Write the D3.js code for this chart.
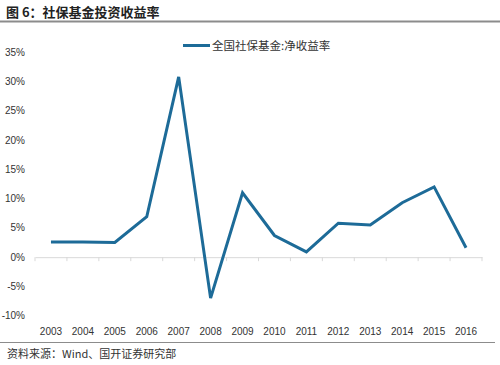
<!DOCTYPE html>
<html><head><meta charset="utf-8">
<script src="https://cdn.jsdelivr.net/npm/d3@7"></script>
<style>body{margin:0;background:#fff;}svg{display:block;}</style>
</head><body>
<script>
const years = ["2003","2004","2005","2006","2007","2008","2009","2010","2011","2012","2013","2014","2015","2016"];
const netReturn = [2.6, 2.6, 2.5, 6.9, 30.8, -7.0, 11.0, 3.7, 0.9, 5.8, 5.5, 9.3, 12.0, 1.6];
const yTicks = [-10, -5, 0, 5, 10, 15, 20, 25, 30, 35];
const seriesName = "全国社保基金:净收益率";
const titleText = "图 6：社保基金投资收益率";
const sourceText = "资料来源：Wind、国开证券研究部";

const W = 500, H = 365;
const svg = d3.select("body").append("svg").attr("width", W).attr("height", H);
const cjk = "'Noto Sans CJK SC', sans-serif";
const lat = "'Liberation Sans', Arial, sans-serif";

// title
svg.append("text").attr("x", 6).attr("y", 17).attr("font-family", cjk).attr("font-weight", "bold")
  .attr("font-size", 13).attr("fill", "#222").text(titleText);
svg.append("line").attr("x1", 0).attr("x2", 500).attr("y1", 21.5).attr("y2", 21.5)
  .attr("stroke", "#8c8c8c").attr("stroke-width", 2);

const x = d3.scaleBand().domain(years).range([35, 482]);
const y = d3.scaleLinear().domain([-10, 35]).range([315.7, 52.3]);

// y labels
svg.append("g").selectAll("text").data(yTicks).join("text")
  .attr("x", 25).attr("y", d => y(d)).attr("dy", "0.35em").attr("text-anchor", "end")
  .attr("font-family", lat).attr("font-size", 10).attr("fill", "#333")
  .text(d => d + "%");

// zero axis
const xAxis = d3.axisBottom(x).tickSize(0).tickFormat("");
const gx = svg.append("g").attr("transform", `translate(0,${y(0)})`).call(xAxis);
gx.select(".domain").attr("stroke", "#d9d9d9");
svg.append("g").selectAll("line").data(d3.range(years.length + 1)).join("line")
  .attr("x1", i => 35 + i * x.step()).attr("x2", i => 35 + i * x.step())
  .attr("y1", y(0)).attr("y2", y(0) + 4).attr("stroke", "#d9d9d9");

// x labels
svg.append("g").selectAll("text").data(years).join("text")
  .attr("x", d => x(d) + x.bandwidth() / 2).attr("y", 335).attr("text-anchor", "middle")
  .attr("font-family", lat).attr("font-size", 10).attr("fill", "#333").text(d => d);

// line
const line = d3.line().x((d, i) => x(years[i]) + x.bandwidth() / 2).y(d => y(d));
svg.append("path").datum(netReturn).attr("d", line).attr("fill", "none")
  .attr("stroke", "#1d6b98").attr("stroke-width", 3).attr("stroke-linejoin", "miter");

// legend
svg.append("line").attr("x1", 183).attr("x2", 210).attr("y1", 45.5).attr("y2", 45.5)
  .attr("stroke", "#1d6b98").attr("stroke-width", 3);
svg.append("text").attr("x", 212).attr("y", 50).attr("font-family", cjk).attr("font-size", 11.5)
  .attr("fill", "#333").text(seriesName);

// source
svg.append("line").attr("x1", 0).attr("x2", 495).attr("y1", 342.5).attr("y2", 342.5)
  .attr("stroke", "#8c8c8c").attr("stroke-width", 1);
svg.append("text").attr("x", 7).attr("y", 358).attr("font-family", cjk).attr("font-size", 11)
  .attr("fill", "#333").text(sourceText);
</script>
</body></html>
